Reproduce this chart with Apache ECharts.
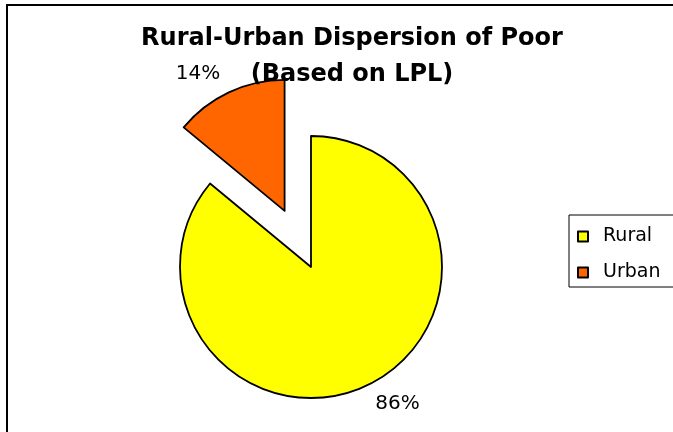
<!DOCTYPE html>
<html>
<head>
<meta charset="utf-8">
<title>Rural-Urban Dispersion of Poor</title>
<script src="https://cdn.jsdelivr.net/npm/echarts@6/dist/echarts.min.js"></script>
<style>
  html, body { margin: 0; padding: 0; background: #fff; }
  #chart { width: 673px; height: 432px; }
</style>
</head>
<body>
<div id="chart"></div>
<script>
// 数据
var categories = ["Rural", "Urban"];
var shares = [86, 14];
var sliceColors = ["#FFFF00", "#FF6600"];
var explodedSlice = "Urban";

var myChart = echarts.init(document.getElementById("chart"));

var pieData = categories.map(function(name, i) {
  return {
    name: name,
    value: shares[i],
    selected: name === explodedSlice,
    itemStyle: { color: sliceColors[i] },
    select: { itemStyle: { color: sliceColors[i], borderColor: "#000", borderWidth: 1.8 } }
  };
});

var option = {
  animation: false,
  backgroundColor: "#fff",
  title: {
    text: "Rural-Urban Dispersion of Poor\n(Based on LPL)",
    left: 347,
    top: 16,
    textAlign: "center",
    textStyle: {
      fontFamily: "DejaVu Sans",
      fontWeight: "bold",
      fontSize: 24,
      lineHeight: 36,
      color: "#000"
    }
  },
  legend: {
    orient: "vertical",
    left: 569,
    top: 215,
    padding: [12, 40, 5, 8],
    itemGap: 17,
    itemWidth: 10,
    itemHeight: 10,
    icon: "rect",
    borderColor: "#000",
    borderWidth: 1,
    selectedMode: false,
    data: categories,
    textStyle: {
      fontFamily: "DejaVu Sans",
      fontSize: 19,
      color: "#000",
      padding: [0, 0, 0, 10]
    }
  },
  graphic: [
    {
      type: "rect",
      shape: { x: 7, y: 5, width: 720, height: 520 },
      style: { fill: null, stroke: "#000", lineWidth: 2 },
      silent: true
    }
  ],
  series: [
    {
      type: "pie",
      center: [311, 267],
      radius: 131,
      startAngle: 90,
      clockwise: true,
      selectedMode: "single",
      selectedOffset: 62,
      avoidLabelOverlap: false,
      percentPrecision: 0,
      emphasis: { disabled: true, scale: false },
      itemStyle: { borderColor: "#000", borderWidth: 1.8 },
      label: {
        show: true,
        position: "outside",
        formatter: "{d}%",
        fontFamily: "DejaVu Sans",
        fontSize: 20,
        color: "#000",
        distanceToLabelLine: 0
      },
      labelLine: { show: false, length: 20, length2: 0 },
      data: pieData
    }
  ]
};

myChart.setOption(option);
</script>
</body>
</html>
